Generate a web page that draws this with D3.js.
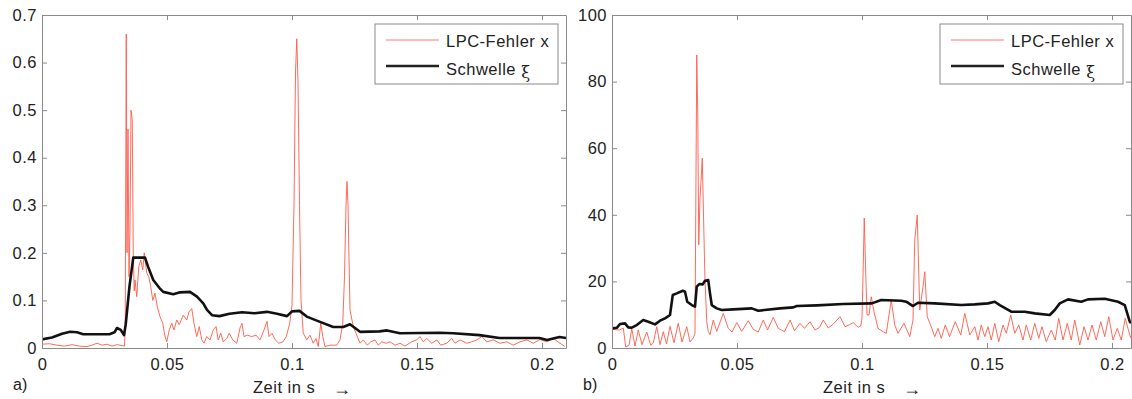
<!DOCTYPE html>
<html>
<head>
<meta charset="utf-8">
<script src="https://cdn.jsdelivr.net/npm/d3@7"></script>
<style>
  body { margin: 0; background: #fff; }
  text { font-family: "Liberation Sans", Arial, sans-serif; fill: #222; }
</style>
</head>
<body>
<svg width="1132" height="399"></svg>
<script>
var svg = d3.select("svg");

// tick values
var xTicks = [0, 0.05, 0.1, 0.15, 0.2];
var yTicksA = [0, 0.1, 0.2, 0.3, 0.4, 0.5, 0.6, 0.7];
var yTicksB = [0, 20, 40, 60, 80, 100];
var legendLabels = ["LPC-Fehler x", "Schwelle "];

// a) LPC-Fehler x  [t, value]
var errA = [
  [0,0.008],[0.003,0.009],[0.006,0.006],[0.009,0.004],[0.012,0.007],[0.015,0.004],[0.018,0.003],
  [0.020,0.006],[0.022,0.01],[0.024,0.006],[0.026,0.008],[0.028,0.004],[0.030,0.007],[0.032,0.005],
  [0.0330,0.004],[0.0333,0.05],[0.0337,0.66],[0.0340,0.2],[0.0344,0.46],[0.0348,0.15],[0.0352,0.25],
  [0.0356,0.5],[0.0361,0.48],[0.0365,0.2],[0.0369,0.12],[0.0372,0.143],[0.0379,0.108],[0.0387,0.171],
  [0.0395,0.185],[0.0403,0.164],[0.0409,0.2],[0.0419,0.157],[0.0427,0.15],[0.0435,0.129],[0.0443,0.1],
  [0.0452,0.115],[0.0461,0.087],[0.0472,0.066],[0.0483,0.052],[0.0491,0.027],[0.0499,0.013],
  [0.0509,0.038],[0.0519,0.052],[0.0528,0.038],[0.0539,0.059],[0.0549,0.049],[0.0557,0.059],
  [0.0565,0.069],[0.0579,0.059],[0.0588,0.076],[0.0599,0.083],[0.0608,0.052],[0.0619,0.024],
  [0.0629,0.045],[0.0639,0.017],[0.0648,0.01],[0.0659,0.024],[0.0672,0.017],[0.0685,0.038],
  [0.0696,0.045],[0.0705,0.017],[0.0715,0.031],[0.0725,0.013],[0.0739,0.02],[0.0749,0.031],
  [0.0763,0.017],[0.0779,0.01],[0.0792,0.042],[0.08,0.052],[0.0808,0.024],[0.0821,0.027],
  [0.0839,0.024],[0.0856,0.027],[0.0872,0.017],[0.0888,0.038],[0.09,0.056],[0.0908,0.024],
  [0.092,0.031],[0.0933,0.017],[0.0947,0.01],[0.0964,0.013],[0.0977,0.024],[0.0991,0.052],
  [0.1,0.09],[0.1008,0.3],[0.1014,0.58],[0.1019,0.65],[0.1024,0.56],[0.1030,0.3],[0.1036,0.1],
  [0.1045,0.031],[0.1059,0.017],[0.1072,0.027],[0.1085,0.01],[0.1096,0.02],[0.1105,0.003],
  [0.1115,0.052],[0.1123,0.024],[0.1132,0.003],[0.1152,0.006],[0.1179,0.006],[0.1192,0.017],
  [0.1203,0.052],[0.1210,0.15],[0.1216,0.3],[0.1220,0.35],[0.1224,0.3],[0.1232,0.08],[0.1245,0.045],
  [0.1256,0.031],[0.1272,0.01],[0.1285,0.017],[0.1301,0.006],[0.1315,0.013],[0.1332,0.017],
  [0.1345,0.006],[0.1359,0.013],[0.1376,0.01],[0.1392,0.013],[0.1412,0.006],[0.1432,0.01],
  [0.1452,0.004],[0.1479,0.013],[0.1499,0.017],[0.1512,0.024],[0.1525,0.013],[0.1539,0.02],
  [0.1559,0.01],[0.1579,0.017],[0.1595,0.006],[0.1619,0.01],[0.1639,0.02],[0.1652,0.01],
  [0.1672,0.017],[0.1699,0.01],[0.1719,0.013],[0.1739,0.017],[0.1759,0.024],[0.1779,0.013],
  [0.1805,0.017],[0.1832,0.01],[0.1859,0.013],[0.1885,0.006],[0.1912,0.013],[0.1939,0.017],
  [0.1965,0.01],[0.1992,0.018],[0.2019,0.013],[0.2045,0.02],[0.2072,0.01],[0.2092,0.003]
];

// a) Schwelle xi
var threshA = [
  [0,0.018],[0.004,0.022],[0.008,0.03],[0.0112,0.034],[0.014,0.033],[0.0165,0.029],[0.027,0.029],
  [0.029,0.033],[0.030,0.042],[0.0315,0.038],[0.0328,0.027],[0.0335,0.05],[0.0350,0.13],
  [0.0365,0.19],[0.0412,0.19],[0.0425,0.17],[0.0445,0.143],[0.047,0.126],[0.0485,0.118],
  [0.0525,0.113],[0.0552,0.117],[0.0592,0.118],[0.062,0.108],[0.0645,0.094],[0.066,0.08],
  [0.068,0.069],[0.071,0.067],[0.075,0.072],[0.080,0.075],[0.085,0.073],[0.090,0.076],
  [0.094,0.072],[0.098,0.067],[0.100,0.077],[0.103,0.078],[0.1059,0.066],[0.1112,0.055],
  [0.1165,0.044],[0.1205,0.044],[0.1232,0.05],[0.1272,0.034],[0.135,0.035],[0.138,0.037],
  [0.1432,0.031],[0.159,0.032],[0.1645,0.031],[0.175,0.027],[0.183,0.021],[0.199,0.021],
  [0.202,0.017],[0.207,0.023],[0.2096,0.021]
];

// b) LPC-Fehler x
var errB = [
  [0,5.6],[0.0030,5.4],[0.0045,6.0],[0.0055,0.3],[0.0068,0.8],[0.0079,5.8],[0.0092,0.6],[0.0105,5.4],
  [0.0120,1.0],[0.0139,4.8],[0.0155,0.8],[0.0165,1.5],[0.0179,6.4],[0.0192,1.0],[0.0205,4.9],
  [0.0218,1.2],[0.0232,6.5],[0.0248,1.6],[0.0265,7.4],[0.0280,1.8],[0.0299,6.4],[0.0312,1.8],
  [0.0325,3.0],[0.0332,4.5],[0.0335,40],[0.0339,88],[0.0343,70],[0.0347,31],[0.0352,45],[0.0356,50],
  [0.0361,57],[0.0366,40],[0.0372,20],[0.0379,8],[0.0385,5],[0.0392,4.0],[0.0405,8.4],[0.0419,5.0],
  [0.0445,10.4],[0.0465,5.9],[0.0480,4.8],[0.0499,7.6],[0.0519,5.0],[0.0545,8.2],[0.0565,5.6],
  [0.0585,4.8],[0.0605,8.4],[0.0622,5.4],[0.0645,9.2],[0.0665,5.9],[0.0690,4.9],[0.0712,8.4],
  [0.0730,5.2],[0.0752,7.4],[0.0770,5.9],[0.0792,7.9],[0.0812,5.4],[0.0830,6.2],[0.0845,8.4],
  [0.0865,6.0],[0.0885,7.2],[0.0912,9.4],[0.0932,6.4],[0.0950,7.0],[0.0965,7.6],[0.0985,6.2],
  [0.0995,6.6],[0.1000,9],[0.1005,25],[0.1009,39],[0.1014,25],[0.1020,10],[0.1028,9.9],[0.1037,15.4],
  [0.1048,10.9],[0.1064,5.9],[0.1084,4.9],[0.1097,4.4],[0.1117,14.4],[0.1131,6.9],[0.1144,4.4],
  [0.1168,7.4],[0.1191,3.4],[0.1204,8.4],[0.1211,32.4],[0.1221,39.9],[0.1231,11.4],[0.1244,18.4],
  [0.1251,22.9],[0.1261,9.4],[0.1277,6.4],[0.1291,3.4],[0.1304,5.9],[0.1317,2.9],[0.1333,6.9],
  [0.1350,3.4],[0.1373,7.9],[0.1395,3.9],[0.1411,10.4],[0.1431,3.9],[0.1451,6.4],[0.1464,2.4],
  [0.1477,6.9],[0.1491,3.4],[0.1504,6.4],[0.1517,2.4],[0.1531,7.4],[0.1547,1.9],[0.1564,6.9],
  [0.1577,4.4],[0.1595,9.9],[0.1611,4.4],[0.1627,6.9],[0.1644,2.4],[0.1657,6.9],[0.1675,2.4],
  [0.1691,7.4],[0.1707,2.9],[0.1720,6.4],[0.1737,1.9],[0.1757,5.4],[0.1773,2.4],[0.1787,8.9],
  [0.1804,2.4],[0.1821,7.4],[0.1837,2.4],[0.1851,8.4],[0.1871,0.9],[0.1888,6.4],[0.1904,2.4],
  [0.1920,6.9],[0.1937,2.4],[0.1955,7.9],[0.1971,3.4],[0.1987,9.4],[0.2004,2.4],[0.2021,5.9],
  [0.2037,2.4],[0.2053,8.9],[0.2071,3.9],[0.2076,3.0]
];

// b) Schwelle xi
var threshB = [
  [0,5.9],[0.0020,6.1],[0.0032,7.2],[0.0052,7.4],[0.0065,6.2],[0.0079,6.1],[0.0099,6.9],
  [0.0125,8.4],[0.0145,7.9],[0.0172,7.1],[0.0192,8.2],[0.0212,8.9],[0.0232,9.9],[0.0243,15.9],
  [0.0259,16.4],[0.0283,17.2],[0.0292,16.9],[0.0301,13.9],[0.0319,12.9],[0.0332,12.4],
  [0.0339,18.4],[0.0349,19.2],[0.0363,19.1],[0.0372,20.2],[0.0385,20.4],[0.0392,16.4],
  [0.0399,12.9],[0.0419,11.9],[0.0439,11.4],[0.0485,11.6],[0.0559,11.9],[0.0585,11.2],
  [0.0672,11.9],[0.0725,12.2],[0.0739,12.6],[0.0819,12.8],[0.0925,13.2],[0.1039,13.4],
  [0.1077,14.4],[0.1157,14.2],[0.1177,13.9],[0.1204,12.6],[0.1224,13.6],[0.1291,13.4],
  [0.1397,12.9],[0.1451,13.1],[0.1504,13.4],[0.1531,13.9],[0.1551,12.9],[0.1597,10.9],
  [0.1651,10.9],[0.1691,10.4],[0.1751,9.9],[0.1771,11.4],[0.1791,13.4],[0.1824,14.6],
  [0.1877,13.9],[0.1904,14.6],[0.1971,14.8],[0.2024,13.9],[0.2051,12.9],[0.2071,7.9],[0.2076,7.5]
];

var plotTop = 15, plotBottom = 348;

function panel(o) {
  var x = d3.scaleLinear().domain([0, o.xMax]).range([o.left, o.right]);
  var y = d3.scaleLinear().domain([0, o.yMax]).range([plotBottom, plotTop]);
  var g = svg.append("g");

  var clipId = "clip" + o.name;
  svg.append("clipPath").attr("id", clipId).append("rect")
    .attr("x", o.left).attr("y", plotTop).attr("width", o.right - o.left).attr("height", plotBottom - plotTop);

  var line = d3.line().x(function(d) { return x(d[0]); }).y(function(d) { return y(d[1]); });

  g.append("path").datum(o.err).attr("d", line)
    .attr("clip-path", "url(#" + clipId + ")")
    .attr("fill", "none").attr("stroke", "#ff5a48").attr("stroke-width", 0.9)
    .attr("stroke-linejoin", "round");
  g.append("path").datum(o.thresh).attr("d", line)
    .attr("clip-path", "url(#" + clipId + ")")
    .attr("fill", "none").attr("stroke", "#111").attr("stroke-width", 2.6)
    .attr("stroke-linejoin", "round");

  var xf = function(d) { return d === 0 ? "0" : String(d); };

  var ax = [
    g.append("g").attr("transform", "translate(0," + plotBottom + ")")
      .call(d3.axisBottom(x).tickValues(xTicks).tickSizeInner(-5).tickSizeOuter(0).tickPadding(10).tickFormat(xf)),
    g.append("g").attr("transform", "translate(0," + plotTop + ")")
      .call(d3.axisTop(x).tickValues(xTicks).tickSizeInner(-5).tickSizeOuter(0).tickFormat("")),
    g.append("g").attr("transform", "translate(" + o.left + ",0)")
      .call(d3.axisLeft(y).tickValues(o.yTicks).tickSizeInner(-5).tickSizeOuter(0).tickPadding(5).tickFormat(xf)),
    g.append("g").attr("transform", "translate(" + o.right + ",0)")
      .call(d3.axisRight(y).tickValues(o.yTicks).tickSizeInner(-5).tickSizeOuter(0).tickFormat(""))
  ];
  ax.forEach(function(a) {
    a.select(".domain").attr("stroke", "#8a8a8a");
    a.selectAll(".tick line").attr("stroke", "#8a8a8a");
    a.selectAll(".tick text").attr("font-family", "Liberation Sans, Arial, sans-serif")
      .attr("font-size", 16.5).attr("letter-spacing", 0.5).attr("fill", "#222");
  });

  // legend
  var lx = o.right - 191, ly = 24;
  g.append("rect").attr("x", lx).attr("y", ly).attr("width", 183).attr("height", 60)
    .attr("fill", "#fff").attr("stroke", "#8a8a8a").attr("stroke-width", 1);
  g.append("line").attr("x1", lx + 11).attr("x2", lx + 64).attr("y1", ly + 16).attr("y2", ly + 16)
    .attr("stroke", "#ff7a6a").attr("stroke-width", 1);
  g.append("line").attr("x1", lx + 11).attr("x2", lx + 64).attr("y1", ly + 42).attr("y2", ly + 42)
    .attr("stroke", "#222").attr("stroke-width", 2.6);
  g.append("text").attr("x", lx + 71).attr("y", ly + 22.5)
    .attr("font-size", 16.5).attr("letter-spacing", 0.5).text(legendLabels[0]);
  var t2 = g.append("text").attr("x", lx + 71).attr("y", ly + 51)
    .attr("font-size", 16.5).attr("letter-spacing", 0.5).text(legendLabels[1]);
  t2.append("tspan").attr("font-family", "DejaVu Serif, serif").attr("font-size", 16)
    .attr("dy", 3).text("\u03BE");

  // labels
  g.append("text").attr("x", o.left - 29).attr("y", 390)
    .attr("font-family", "Liberation Mono, monospace").attr("font-size", 16).text(o.name + ")");
  g.append("text").attr("x", o.left + 211).attr("y", 393)
    .attr("font-size", 16.5).attr("letter-spacing", 0.5).text("Zeit in s");
  g.append("text").attr("x", o.left + 291).attr("y", 395)
    .attr("font-family", "DejaVu Sans, sans-serif").attr("font-size", 18).text("\u2192");
}

panel({ name: "a", left: 42, right: 566, xMax: 0.2096, yMax: 0.7, yTicks: yTicksA, err: errA, thresh: threshA });
panel({ name: "b", left: 612, right: 1131, xMax: 0.2076, yMax: 100, yTicks: yTicksB, err: errB, thresh: threshB });
</script>
</body>
</html>
